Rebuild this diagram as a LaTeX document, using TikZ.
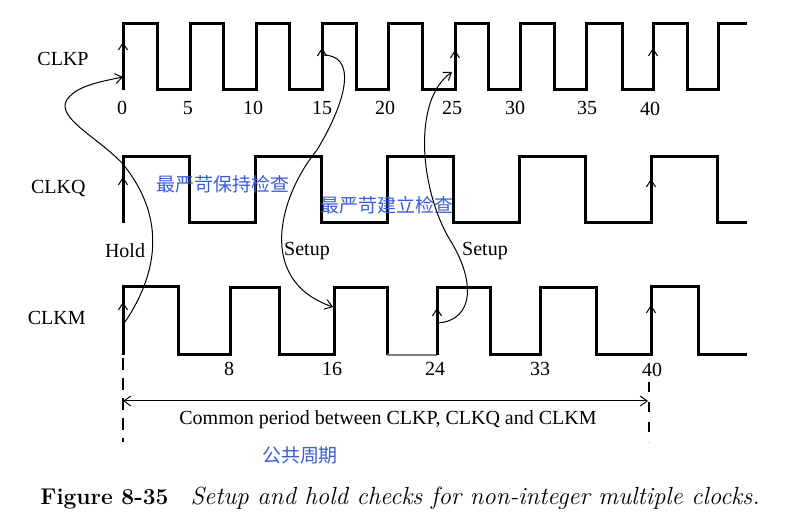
\documentclass[tikz,border=0pt]{standalone}
\usepackage{fontspec}
\newfontfamily\timesfont{Liberation Serif}
\newfontfamily\cjk{Noto Sans CJK SC}
\usetikzlibrary{arrows.meta}
\definecolor{cnblue}{RGB}{58,92,214}
\begin{document}
\begin{tikzpicture}[x=0.5pt,y=-0.5pt,
  wave/.style={line width=1.5pt},
  check/.style={line width=0.5pt,-{Straight Barb[length=3.5pt,width=5pt]}},
  edgetip/.style={line width=0.5pt,-{Straight Barb[length=3.5pt,width=4.5pt]}},
  lbl/.style={font=\timesfont\fontsize{10}{12}\selectfont,inner sep=0pt},
  cn/.style={font=\cjk\fontsize{9.5}{11}\selectfont,text=cnblue,inner sep=0pt}]
\fill[white] (0,0) rectangle (805,528);
\useasboundingbox (0,0) rectangle (805,528);

% CLKP
\draw[wave] (123,90) -- (123,24) -- (157,24) -- (157,90) -- (190,90) -- (190,24)
  -- (223,24) -- (223,90) -- (256,90) -- (256,24) -- (289,24) -- (289,90)
  -- (322,90) -- (322,24) -- (356,24) -- (356,90) -- (388,90) -- (388,24)
  -- (422,24) -- (422,90) -- (455,90) -- (455,24) -- (488,24) -- (488,90)
  -- (520,90) -- (520,24) -- (554,24) -- (554,90) -- (586,90) -- (586,24)
  -- (622,24) -- (622,90) -- (653,90) -- (653,24) -- (687,24) -- (687,90)
  -- (718,90) -- (718,24) -- (747,24);

% CLKQ
\draw[wave] (123,223) -- (123,157) -- (189,157) -- (189,223) -- (255,223)
  -- (255,157) -- (321,157) -- (321,223) -- (387,223) -- (387,157)
  -- (453,157) -- (453,223) -- (519,223) -- (519,157) -- (585,157)
  -- (585,223) -- (651,223) -- (651,157) -- (717,157) -- (717,223) -- (747,223);

% CLKM
\draw[wave] (123,355) -- (123,287) -- (178,287) -- (178,355) -- (230,355)
  -- (230,288) -- (279,288) -- (279,355) -- (334,355) -- (334,288)
  -- (387,288) -- (387,355);
\draw[line width=0.6pt,gray] (387,355) -- (437,355);
\draw[wave] (437,355) -- (437,288) -- (490,288) -- (490,355) -- (540,355)
  -- (540,288) -- (596,288) -- (596,355) -- (651,355) -- (651,287)
  -- (698,287) -- (698,355) -- (747,355);

% rising edges
\draw[edgetip] (123,56) -- (123,42);
\draw[edgetip] (322,62) -- (322,48);
\draw[edgetip] (455,64) -- (455,50);
\draw[edgetip] (653,62) -- (653,48);
\draw[edgetip] (123,191) -- (123,177);
\draw[edgetip] (651,193) -- (651,179);
\draw[edgetip] (123,316) -- (123,302);
\draw[edgetip] (437,322) -- (437,308);
\draw[edgetip] (651,319) -- (651,305);

\node[lbl,anchor=east] (clkp) at (89,59) {CLKP};
\node[lbl,anchor=east] (clkq) at (86,189) {CLKQ};
\node[lbl,anchor=east] (clkm) at (86,318) {CLKM};

\node[lbl] (p0) at (122,108) {0};
\node[lbl] (p5) at (188,108) {5};
\node[lbl] (p10) at (253,108) {10};
\node[lbl] (p15) at (322,108) {15};
\node[lbl] (p20) at (385,108) {20};
\node[lbl] (p25) at (452,108) {25};
\node[lbl] (p30) at (515,108) {30};
\node[lbl] (p35) at (587,108) {35};
\node[lbl] (p40) at (650,109) {40};

\node[lbl] (m8) at (229,369) {8};
\node[lbl] (m16) at (332,369) {16};
\node[lbl] (m24) at (435,369) {24};
\node[lbl] (m33) at (540,369) {33};
\node[lbl] (m40) at (652,370) {40};

\node[cn] (holdcn) at (223,184) {最严苛保持检查};
\node[cn] (setupcn) at (387,205) {最严苛建立检查};
\node[lbl] (hold) at (125,251) {Hold};
\node[lbl] (setup1) at (307,251) {Setup};
\node[lbl] (setup2) at (485,251) {Setup};

% checks
\coordinate (hs) at (125,322);
\coordinate (he) at (123,77);
\coordinate (s1s) at (323,55);
\coordinate (s1e) at (333,307);
\coordinate (s2s) at (438,323);
\coordinate (s2e) at (452,72);
\draw[check] (hs) .. controls (160,270) and (165,215) .. (122,163)
  .. controls (95,135) and (50,115) .. (70,96)
  .. controls (80,86) and (98,82) .. (he);
\draw[check] (s1s) .. controls (355,55) and (350,95) .. (317,150)
  .. controls (280,195) and (255,280) .. (s1e);
\draw[check] (s2s) .. controls (475,320) and (475,280) .. (450,240)
  .. controls (420,190) and (412,100) .. (s2e);

% common period
\draw[line width=0.6pt,dash pattern=on 6pt off 4pt] (123,358) -- (123,442);
\draw[line width=0.6pt,dash pattern=on 5pt off 5pt] (649,382) -- (649,442);
\coordinate (cl) at (123,401);
\coordinate (cr) at (648,401);
\draw[line width=0.5pt,{Straight Barb[length=3.5pt,width=5pt]}-{Straight Barb[length=3.5pt,width=5pt]}] (cl) -- (cr);
\node[lbl] (common) at (388,420) {Common period between CLKP, CLKQ and CLKM};
\node[cn] (commoncn) at (300,455) {公共周期};

\node[anchor=west,inner sep=0pt,font=\fontsize{11.4}{13}\selectfont] (caption) at (40,498)
  {\textbf{Figure 8-35}\hspace{11pt}{\fontsize{12.4}{14}\selectfont\textit{Setup and hold checks for non-integer multiple clocks.}}};
\end{tikzpicture}
\end{document}
